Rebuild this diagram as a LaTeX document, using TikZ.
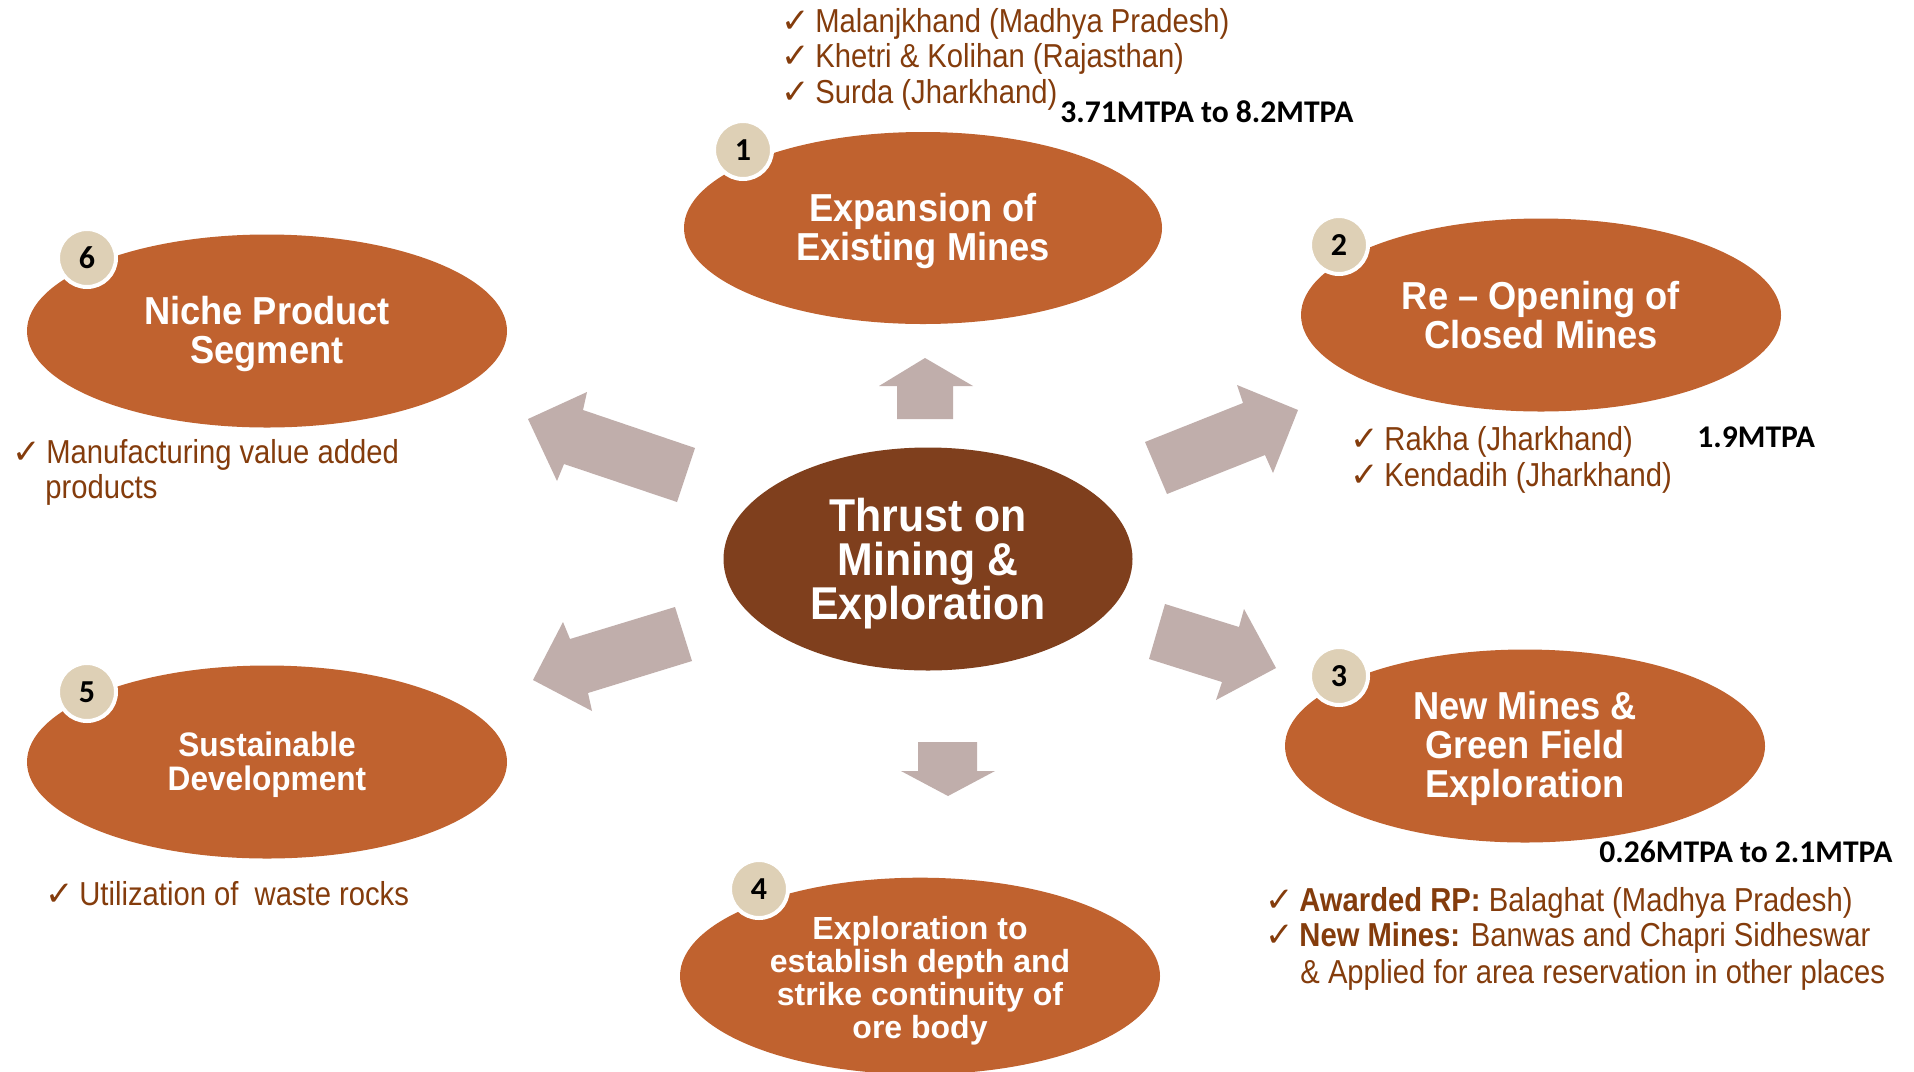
\documentclass[tikz,border=0pt]{standalone}
\usepackage{fontspec}
\usetikzlibrary{shapes.geometric}
\newfontfamily\ellfont[FakeStretch=0.93]{Liberation Sans}
\newfontfamily\listfont[FakeStretch=0.88]{Liberation Sans}
\newfontfamily\plainsans{Liberation Sans}
\newfontfamily\calfont{Carlito}
\newfontfamily\symfont{DejaVu Sans}
\definecolor{ellorange}{RGB}{192,98,47}
\definecolor{centerbrown}{RGB}{127,63,29}
\definecolor{arrowgray}{RGB}{192,174,171}
\definecolor{beige}{RGB}{222,208,182}
\definecolor{listbrown}{RGB}{132,60,12}
\newcommand{\chk}{\makebox[17pt][l]{\symfont\fontsize{17}{17}\selectfont ✓}}
\newcommand{\strutup}[1]{\rule{0pt}{#1}}
\begin{document}
\begin{tikzpicture}[x=0.5pt,y=-0.5pt,
  ell/.style={ellipse, fill=ellorange, inner sep=0pt, minimum width=240pt, minimum height=96.5pt,
    text=white, align=center, font=\ellfont\bfseries\fontsize{19.5}{19.5}\selectfont},
  num/.style={circle, fill=beige, draw=white, line width=2pt, minimum size=29pt, inner sep=0pt,
    text=black, font=\calfont\bfseries\fontsize{16}{16}\selectfont},
  li/.style={anchor=base west, inner sep=0pt, text=listbrown, font=\listfont\fontsize{16.6}{17.7}\selectfont},
  mtpa/.style={anchor=base west, inner sep=0pt, text=black, font=\calfont\bfseries\fontsize{15.8}{15.8}\selectfont},
  blockarrow/.style={fill=arrowgray}]
\useasboundingbox[fill=white] (0,0) rectangle (1914,1071);

% block arrows
\fill[blockarrow] (897,419) -- (897,386) -- (879,386) -- (925,358) -- (973,386) -- (953,386) -- (953,419) -- cycle;
\fill[blockarrow] (918,742) -- (977,742) -- (977,771) -- (995,771) -- (948,796) -- (901,771) -- (918,771) -- cycle;
\fill[blockarrow] (1145,442) -- (1243,403) -- (1237,385) -- (1298,410) -- (1273,473) -- (1265,455) -- (1167,494) -- cycle;
\fill[blockarrow] (1165,604) -- (1239,627) -- (1244,609) -- (1276,668) -- (1216,700) -- (1222,682) -- (1149,659) -- cycle;
\fill[blockarrow] (695,448) -- (583,410) -- (587,392) -- (528,419) -- (557,481) -- (564,464) -- (677,502) -- cycle;
\fill[blockarrow] (675,607) -- (570,639) -- (563,622) -- (533,680) -- (592,711) -- (588,693) -- (692,661) -- cycle;

% ellipses
\node[ell, fill=centerbrown, minimum width=204.5pt, minimum height=111.5pt,
  font=\ellfont\bfseries\fontsize{23}{22}\selectfont] (c) at (928,559) {\strutup{21pt}Thrust on\\Mining \&\\Exploration};
\node[ell, minimum width=239pt, minimum height=96pt] (e1) at (923,228) {\strutup{16.8pt}Expansion of\\Existing Mines};
\node[ell] (e2) at (1541,315) {Re – Opening of\\Closed Mines};
\node[ell] (e3) at (1525,746) {\strutup{17pt}New Mines \&\\Green Field\\Exploration};
\node[ell, minimum height=94pt, font=\plainsans\bfseries\fontsize{16}{16.5}\selectfont] (e4) at (920,976)
  {\strutup{16.7pt}Exploration to\\establish depth and\\strike continuity of\\ore body};
\node[ell, font=\ellfont\bfseries\fontsize{17}{17}\selectfont] (e5) at (267,762) {\strutup{15.4pt}Sustainable\\Development};
\node[ell] (e6) at (267,331) {\strutup{17pt}Niche Product\\Segment};

% number badges
\node[num] (n1) at (743,150) {1};
\node[num] (n2) at (1339,245) {2};
\node[num] (n3) at (1339,676) {3};
\node[num] (n4) at (759,889) {4};
\node[num] (n5) at (87,692) {5};
\node[num] (n6) at (87,258) {6};

% lists
\node[li] (l11) at (781,32) {\chk Malanjkhand (Madhya Pradesh)};
\node[li] (l12) at (781,67) {\chk Khetri \& Kolihan (Rajasthan)};
\node[li] (l13) at (781,103) {\chk Surda (Jharkhand)};
\node[mtpa] (m1) at (1060,122) {3.71MTPA to 8.2MTPA};

\node[li] (l21) at (1350,450) {\chk Rakha (Jharkhand)};
\node[li] (l22) at (1350,486) {\chk Kendadih (Jharkhand)};
\node[mtpa] (m2) at (1697,447) {1.9MTPA};

\node[mtpa] (m3) at (1599,862) {0.26MTPA to 2.1MTPA};
\node[li] (l31) at (1265,911) {\chk\textbf{Awarded RP:} Balaghat (Madhya Pradesh)};
\node[li] (l32) at (1265,946) {\chk\textbf{New Mines:} Banwas and Chapri Sidheswar};
\node[li] (l33) at (1300,983) {\& Applied for area reservation in other places};

\node[li] (l61) at (12,463) {\chk Manufacturing value added};
\node[li] (l62) at (45,498) {products};

\node[li] (l51) at (45,905) {\chk Utilization of\ \ waste rocks};
\end{tikzpicture}
\end{document}
